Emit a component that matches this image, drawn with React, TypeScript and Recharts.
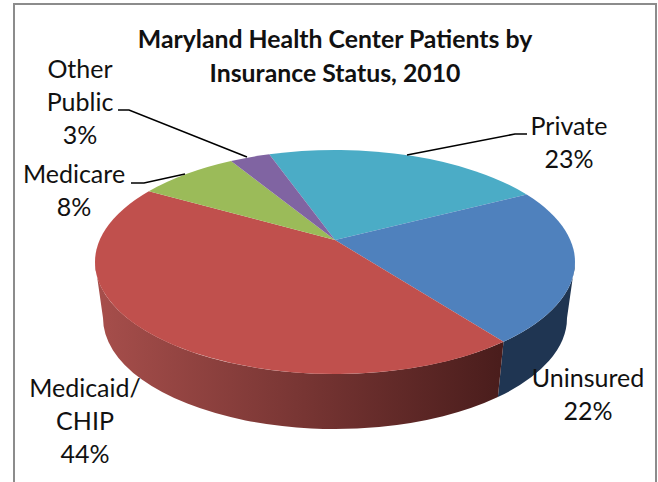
import { PieChart, Pie } from 'recharts';

const categories = ['Private', 'Uninsured', 'Medicaid/CHIP', 'Medicare', 'Other Public'];
const shares = [23, 22, 43.6, 8.1, 3.3];
const labelLines = [['Private'], ['Uninsured'], ['Medicaid/', 'CHIP'], ['Medicare'], ['Other', 'Public']];
const percentLabels = ['23%', '22%', '44%', '8%', '3%'];
const titleLines = ['Maryland Health Center Patients by', 'Insurance Status, 2010'];

const topColors = ['#4bacc6', '#4f81bd', '#c0504d', '#9bbb59', '#8064a2'];
const wallColors = [
  ['#2f6f80', '#2f6f80'],
  ['#1f3552', '#1f3552'],
  ['#a64e4b', '#4a1d1c'],
  ['#627a36', '#627a36'],
  ['#503e68', '#503e68'],
];

const data = categories.map((name, i) => ({ name, value: shares[i] }));

const WIDTH = 658;
const HEIGHT = 482;
const FONT = 'Lato, sans-serif';

// the pie is tilted: rim ellipse sits lower than the apex, bottom rim a bit smaller
const APEX_X = 335;
const APEX_Y = 240;
const RX = 240;
const RY = 112;
const RIM_OFFSET = 22;
const BOTTOM_RX = 232;
const BOTTOM_RY = 111;
const BOTTOM_OFFSET = 78;

const labelPlaces = [
  { x: 569, y: 135, leader: '527,134 515,134 407,155' },
  { x: 588, y: 387, leader: '' },
  { x: 85, y: 397, leader: '' },
  { x: 74, y: 183, leader: '131,183 144,183 185,174' },
  { x: 80, y: 78, leader: '118,110 129,110 247,157' },
];

const rad = (d: number) => (d * Math.PI) / 180;

// angle clockwise from top on the rim, for a library angle
function rimAngle(angle: number) {
  const t = rad(90 - angle);
  const dx = Math.sin(t);
  const dy = -Math.cos(t);
  const ay = -RIM_OFFSET / RY;
  const b = ay * dy;
  const s = -b + Math.sqrt(b * b - (ay * ay - 1));
  const px = s * dx;
  const py = ay + s * dy;
  const phi = (Math.atan2(px, -py) * 180) / Math.PI;
  return (phi + 360) % 360;
}

const rimPoint = (cx: number, cy: number, phi: number) =>
  `${cx + RX * Math.sin(rad(phi))} ${cy + RIM_OFFSET - RY * Math.cos(rad(phi))}`;
const bottomPoint = (cx: number, cy: number, phi: number) =>
  `${cx + BOTTOM_RX * Math.sin(rad(phi))} ${cy + BOTTOM_OFFSET - BOTTOM_RY * Math.cos(rad(phi))}`;

function TopFace(props: any) {
  const { cx, cy, startAngle, endAngle, fill } = props;
  const a = rimAngle(startAngle);
  let b = rimAngle(endAngle);
  if (b < a) b += 360;
  const large = b - a > 180 ? 1 : 0;
  const d = `M ${cx} ${cy} L ${rimPoint(cx, cy, a)} A ${RX} ${RY} 0 ${large} 1 ${rimPoint(cx, cy, b)} Z`;
  return <path d={d} fill={fill} />;
}

function WallFace(props: any) {
  const { cx, cy, startAngle, endAngle, index } = props;
  const a = rimAngle(startAngle);
  let b = rimAngle(endAngle);
  if (b < a) b += 360;
  const from = Math.max(a, 90);
  const to = Math.min(b, 270);
  if (to <= from) return <g />;
  const id = `wall-${index}`;
  const d =
    `M ${rimPoint(cx, cy, from)} A ${RX} ${RY} 0 0 1 ${rimPoint(cx, cy, to)} ` +
    `L ${bottomPoint(cx, cy, to)} A ${BOTTOM_RX} ${BOTTOM_RY} 0 0 0 ${bottomPoint(cx, cy, from)} Z`;
  return (
    <g>
      <defs>
        <linearGradient id={id} gradientUnits="userSpaceOnUse" x1={100} y1={0} x2={500} y2={0}>
          <stop offset="0%" stopColor={wallColors[index][0]} />
          <stop offset="100%" stopColor={wallColors[index][1]} />
        </linearGradient>
      </defs>
      <path d={d} fill={`url(#${id})`} />
    </g>
  );
}

function SliceLabel(props: any) {
  const { index } = props;
  const place = labelPlaces[index];
  const lines = [...labelLines[index], percentLabels[index]];
  return (
    <g>
      {place.leader && <polyline points={place.leader} fill="none" stroke="#000" strokeWidth={1.5} />}
      {lines.map((line, i) => (
        <text key={line} x={place.x} y={place.y + i * 33} textAnchor="middle" fontFamily={FONT} fontSize={25} fill="#111">
          {line}
        </text>
      ))}
    </g>
  );
}

export default function App() {
  const topData = data.map((d, i) => ({ ...d, fill: topColors[i] }));
  return (
    <div style={{ position: 'absolute', left: 0, top: 0, width: WIDTH, height: HEIGHT, background: '#fff', overflow: 'hidden' }}>
      <div
        style={{
          position: 'absolute',
          left: 13,
          top: 3,
          width: 640,
          height: 500,
          borderTop: '2px solid #8c8c8c',
          borderLeft: '2px solid #8c8c8c',
          borderRight: '2px solid #8c8c8c',
        }}
      />
      <div style={{ position: 'absolute', left: 0, top: 0 }}>
        <PieChart width={WIDTH} height={HEIGHT} margin={{ top: 0, right: 0, bottom: 0, left: 0 }}>
          {titleLines.map((line, i) => (
            <text key={line} x={335} y={48 + i * 34} textAnchor="middle" fontFamily={FONT} fontWeight={700} fontSize={24.8} fill="#111">
              {line}
            </text>
          ))}
          <Pie
            data={data}
            dataKey="value"
            nameKey="name"
            cx={APEX_X}
            cy={APEX_Y}
            outerRadius={RX}
            startAngle={109.7}
            endAngle={-250.3}
            stroke="none"
            shape={WallFace}
            isAnimationActive={false}
          />
          <Pie
            data={topData}
            dataKey="value"
            nameKey="name"
            cx={APEX_X}
            cy={APEX_Y}
            outerRadius={RX}
            startAngle={109.7}
            endAngle={-250.3}
            stroke="none"
            shape={TopFace}
            label={SliceLabel}
            labelLine={false}
            isAnimationActive={false}
          />
        </PieChart>
      </div>
    </div>
  );
}
